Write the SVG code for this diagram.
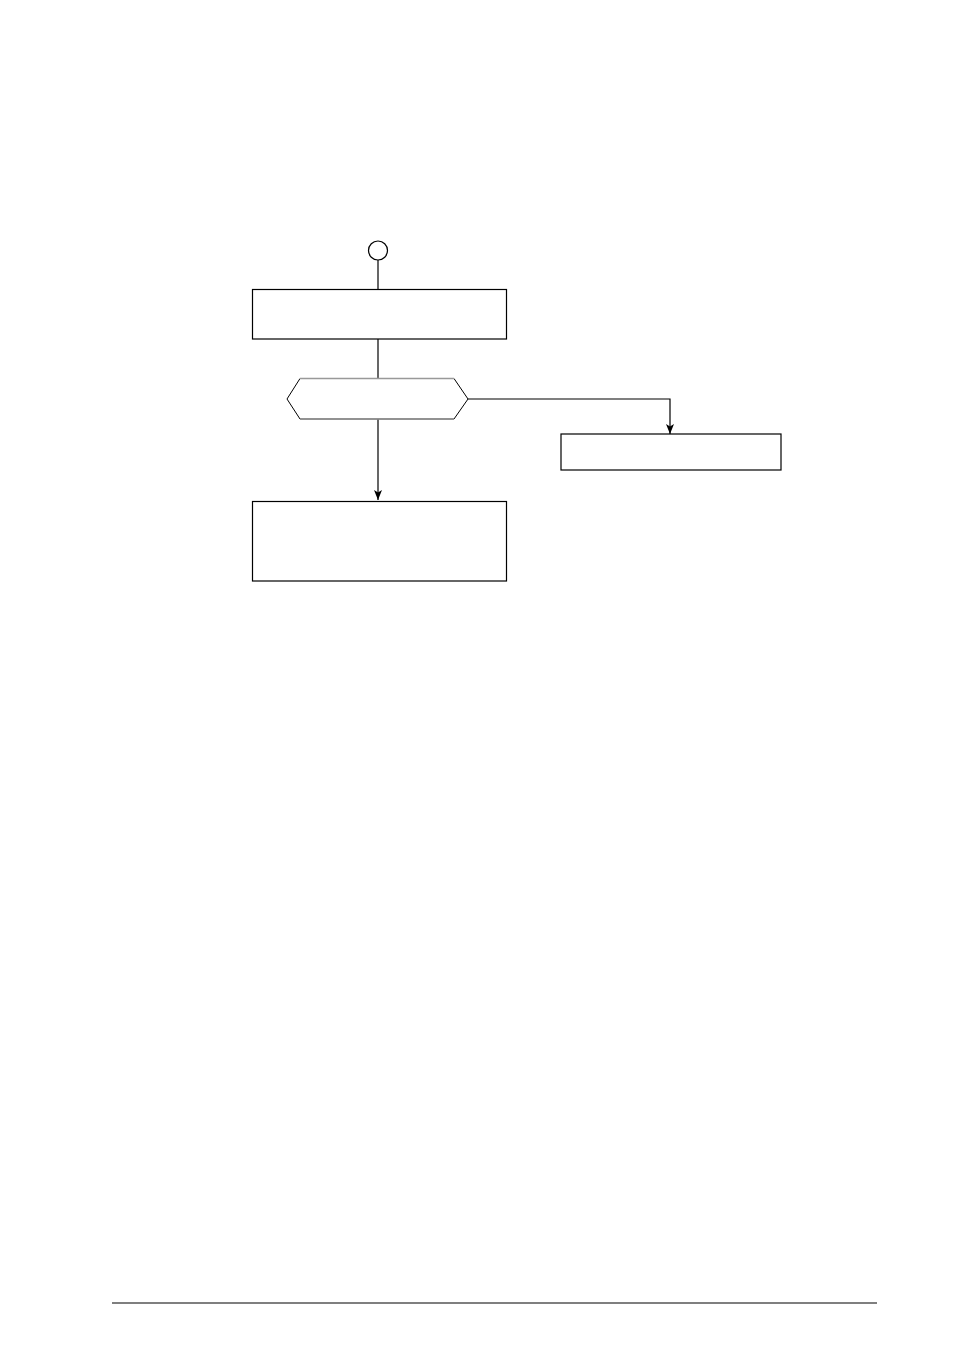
<svg xmlns="http://www.w3.org/2000/svg" width="954" height="1351" viewBox="0 0 954 1351">
<style>
.n{fill:#fff;stroke:#000;stroke-width:1.2}
.c{fill:none;stroke:#000;stroke-width:1.2}
</style>
<defs>
<marker id="ah" viewBox="0 0 10 12" refX="10" refY="6" markerWidth="10" markerHeight="12" markerUnits="userSpaceOnUse" orient="auto">
<path d="M0,2 L10,6 L0,10 L2.5,6 Z" fill="#000"/>
</marker>
</defs>
<rect width="954" height="1351" fill="#fff"/>
<g id="connectors">
<line class="c" x1="378" y1="260" x2="378" y2="289"/>
<line class="c" x1="378" y1="339" x2="378" y2="378"/>
<line class="c" x1="378" y1="419" x2="378" y2="500" marker-end="url(#ah)"/>
<polyline class="c" points="468,399 670,399 670,434" marker-end="url(#ah)"/>
</g>
<g id="start"><circle class="n" cx="378" cy="250.5" r="9.5"/></g>
<g id="box1"><rect class="n" x="252.5" y="289.5" width="254" height="49.5"/></g>
<g id="decision">
<polygon points="300,378.5 454,378.5 468,399 454,419 300,419 287,399" fill="#fff" stroke="#000" stroke-width="1"/>
<line x1="300" y1="378.5" x2="454" y2="378.5" stroke="#999" stroke-width="1.4"/>
<line x1="300" y1="419" x2="454" y2="419" stroke="#999" stroke-width="1.4"/>
</g>
<g id="box2"><rect class="n" x="561" y="434" width="220" height="36"/></g>
<g id="box3"><rect class="n" x="252.5" y="501.5" width="254" height="79.5"/></g>
<line x1="112" y1="1303" x2="877" y2="1303" stroke="#000" stroke-width="1.2"/>
</svg>
